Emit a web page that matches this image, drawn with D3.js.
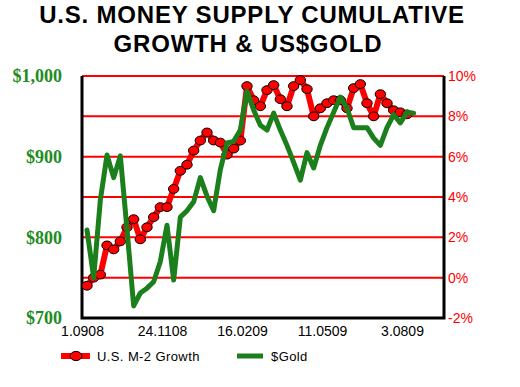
<!DOCTYPE html>
<html>
  <head>
  <title>U.S. Money Supply Cumulative Growth & US$Gold</title>
  <style>
    body, html {
      margin: 0;
      padding: 0;
      background: #fff;
    }
    #svg text {
      font-family: "Liberation Sans", Arial, sans-serif;
    }
  </style>
  </head>
  <body>
    <svg id="svg" width="520" height="387"></svg>
  <script src="https://cdn.jsdelivr.net/npm/d3@7"></script>
  <script>
    // weekly readings, first one a few days after 1.09.08
    const m2Growth = [-0.4, 0.0, 0.15, 1.6, 1.4, 1.8, 2.5, 2.9, 1.9, 2.5, 3.0, 3.5, 3.5, 4.4, 5.3, 5.6,
      6.3, 6.8, 7.2, 6.8, 6.7, 6.1, 6.4, 6.8, 9.5, 8.8, 8.5, 9.3, 9.55, 8.85, 8.5, 9.5, 9.8, 9.35,
      8.0, 8.4, 8.65, 8.8, 8.8, 8.4, 9.4, 9.6, 8.65, 8.0, 9.1, 8.65, 8.3, 8.2, 8.1]
    const gold = [809, 750, 846, 902, 874, 901, 810, 715, 731, 737, 745, 770, 815, 747, 825, 833,
      844, 874, 851, 833, 884, 917, 919, 933, 981, 958, 939, 933, 954, 933, 914, 893, 871, 905,
      886, 914, 936, 955, 974, 960, 936, 936, 936, 923, 914, 936, 952, 942, 955, 954]
    const tickWeeks = [0, 12, 24, 36, 48]
    const tickLabels = ["1.0908", "24.1108", "16.0209", "11.0509", "3.0809"]
    const pctTicks = [-2, 0, 2, 4, 6, 8, 10]
    const goldTicks = [700, 800, 900, 1000]
    const firstWeek = 0.75

    const red = "#ff0000"
    const green = "#1b7f1b"
    const labelGreen = "#228b22"

    const svg = d3.select('#svg')

    const x = d3.scaleLinear().domain([0, 54.3]).range([82, 444])
    const yPct = d3.scaleLinear().domain([-2, 10]).range([318, 76])
    const yGold = d3.scaleLinear().domain([700, 1000]).range([318, 76])

    // title
    svg.append("text")
      .attr("x", 252).attr("y", 23)
      .attr("text-anchor", "middle")
      .style("font-size", "24px").style("font-weight", "bold")
      .style("letter-spacing", "0.8px")
      .text("U.S. MONEY SUPPLY CUMULATIVE")
    svg.append("text")
      .attr("x", 248).attr("y", 52)
      .attr("text-anchor", "middle")
      .style("font-size", "24px").style("font-weight", "bold")
      .style("letter-spacing", "0.8px")
      .text("GROWTH & US$GOLD")

    // red grid lines
    svg.selectAll(".grid")
      .data(pctTicks.filter(d => d > -2))
      .enter().append("line")
      .attr("class", "grid")
      .attr("x1", x.range()[0]).attr("x2", x.range()[1])
      .attr("y1", d => yPct(d)).attr("y2", d => yPct(d))
      .attr("stroke", red).attr("stroke-width", 2)

    // right axis %
    svg.append("g")
      .attr("transform", `translate(${x.range()[1]},0)`)
      .call(d3.axisRight(yPct).tickValues(pctTicks).tickFormat(d => d + "%").tickSize(0).tickPadding(4))
      .call(g => g.select(".domain").remove())
      .selectAll("text")
      .attr("fill", red)
      .style("font-size", "14px")

    // left axis gold
    svg.append("g")
      .attr("transform", `translate(${x.range()[0]},0)`)
      .call(d3.axisLeft(yGold).tickValues(goldTicks).tickFormat(d => "$" + d3.format(",")(d)).tickSize(0).tickPadding(20))
      .call(g => g.select(".domain").remove())
      .selectAll("text")
      .attr("fill", labelGreen)
      .style("font-family", "'Liberation Serif', 'Times New Roman', serif")
      .style("font-weight", "bold")
      .style("font-size", "18px")

    // bottom axis
    svg.append("g")
      .attr("transform", `translate(0,${yPct.range()[0]})`)
      .call(d3.axisBottom(x).tickValues(tickWeeks).tickFormat((d, i) => tickLabels[i]).tickSize(0).tickPadding(8))
      .call(g => g.select(".domain").remove())
      .selectAll("text")
      .attr("fill", "#000")
      .style("font-size", "14px")

    // frame
    svg.append("path")
      .attr("d", `M${x.range()[0]},${yPct(10)}V${yPct(-2)}H${x.range()[1]}V${yPct(10)}`)
      .attr("fill", "none").attr("stroke", "#000").attr("stroke-width", 3)

    // M-2 growth
    const redLine = d3.line()
      .x((d, i) => x(firstWeek + i))
      .y(d => yPct(d))
    svg.append("path")
      .datum(m2Growth)
      .attr("d", redLine)
      .attr("fill", "none").attr("stroke", red)
      .attr("stroke-width", 6).attr("stroke-linejoin", "round")

    svg.selectAll(".dot")
      .data(m2Growth)
      .enter().append("ellipse")
      .attr("class", "dot")
      .attr("cx", (d, i) => x(firstWeek + i))
      .attr("cy", d => yPct(d))
      .attr("rx", 5.2).attr("ry", 4.4)
      .attr("fill", red).attr("stroke", "#000").attr("stroke-width", 1)

    // gold
    const goldLine = d3.line()
      .x((d, i) => x(firstWeek + i))
      .y(d => yGold(d))
    svg.append("path")
      .datum(gold)
      .attr("d", goldLine)
      .attr("fill", "none").attr("stroke", green)
      .attr("stroke-width", 5).attr("stroke-linejoin", "round").attr("stroke-linecap", "round")

    // legend
    const legend = svg.append("g").attr("transform", "translate(0,356)")
    legend.append("line")
      .attr("x1", 61).attr("x2", 90).attr("y1", 0).attr("y2", 0)
      .attr("stroke", red).attr("stroke-width", 6)
    legend.append("ellipse")
      .attr("cx", 76).attr("cy", 0).attr("rx", 6).attr("ry", 4.6)
      .attr("fill", red).attr("stroke", "#000").attr("stroke-width", 1)
    legend.append("text")
      .attr("x", 97).attr("y", 5)
      .style("font-size", "13px").style("letter-spacing", "0.4px")
      .text("U.S. M-2 Growth")
    legend.append("line")
      .attr("x1", 237).attr("x2", 263).attr("y1", 0).attr("y2", 0)
      .attr("stroke", green).attr("stroke-width", 5)
    legend.append("text")
      .attr("x", 271).attr("y", 5)
      .style("font-size", "13px").style("letter-spacing", "0.4px")
      .text("$Gold")
  </script>
  </body>
</html>
